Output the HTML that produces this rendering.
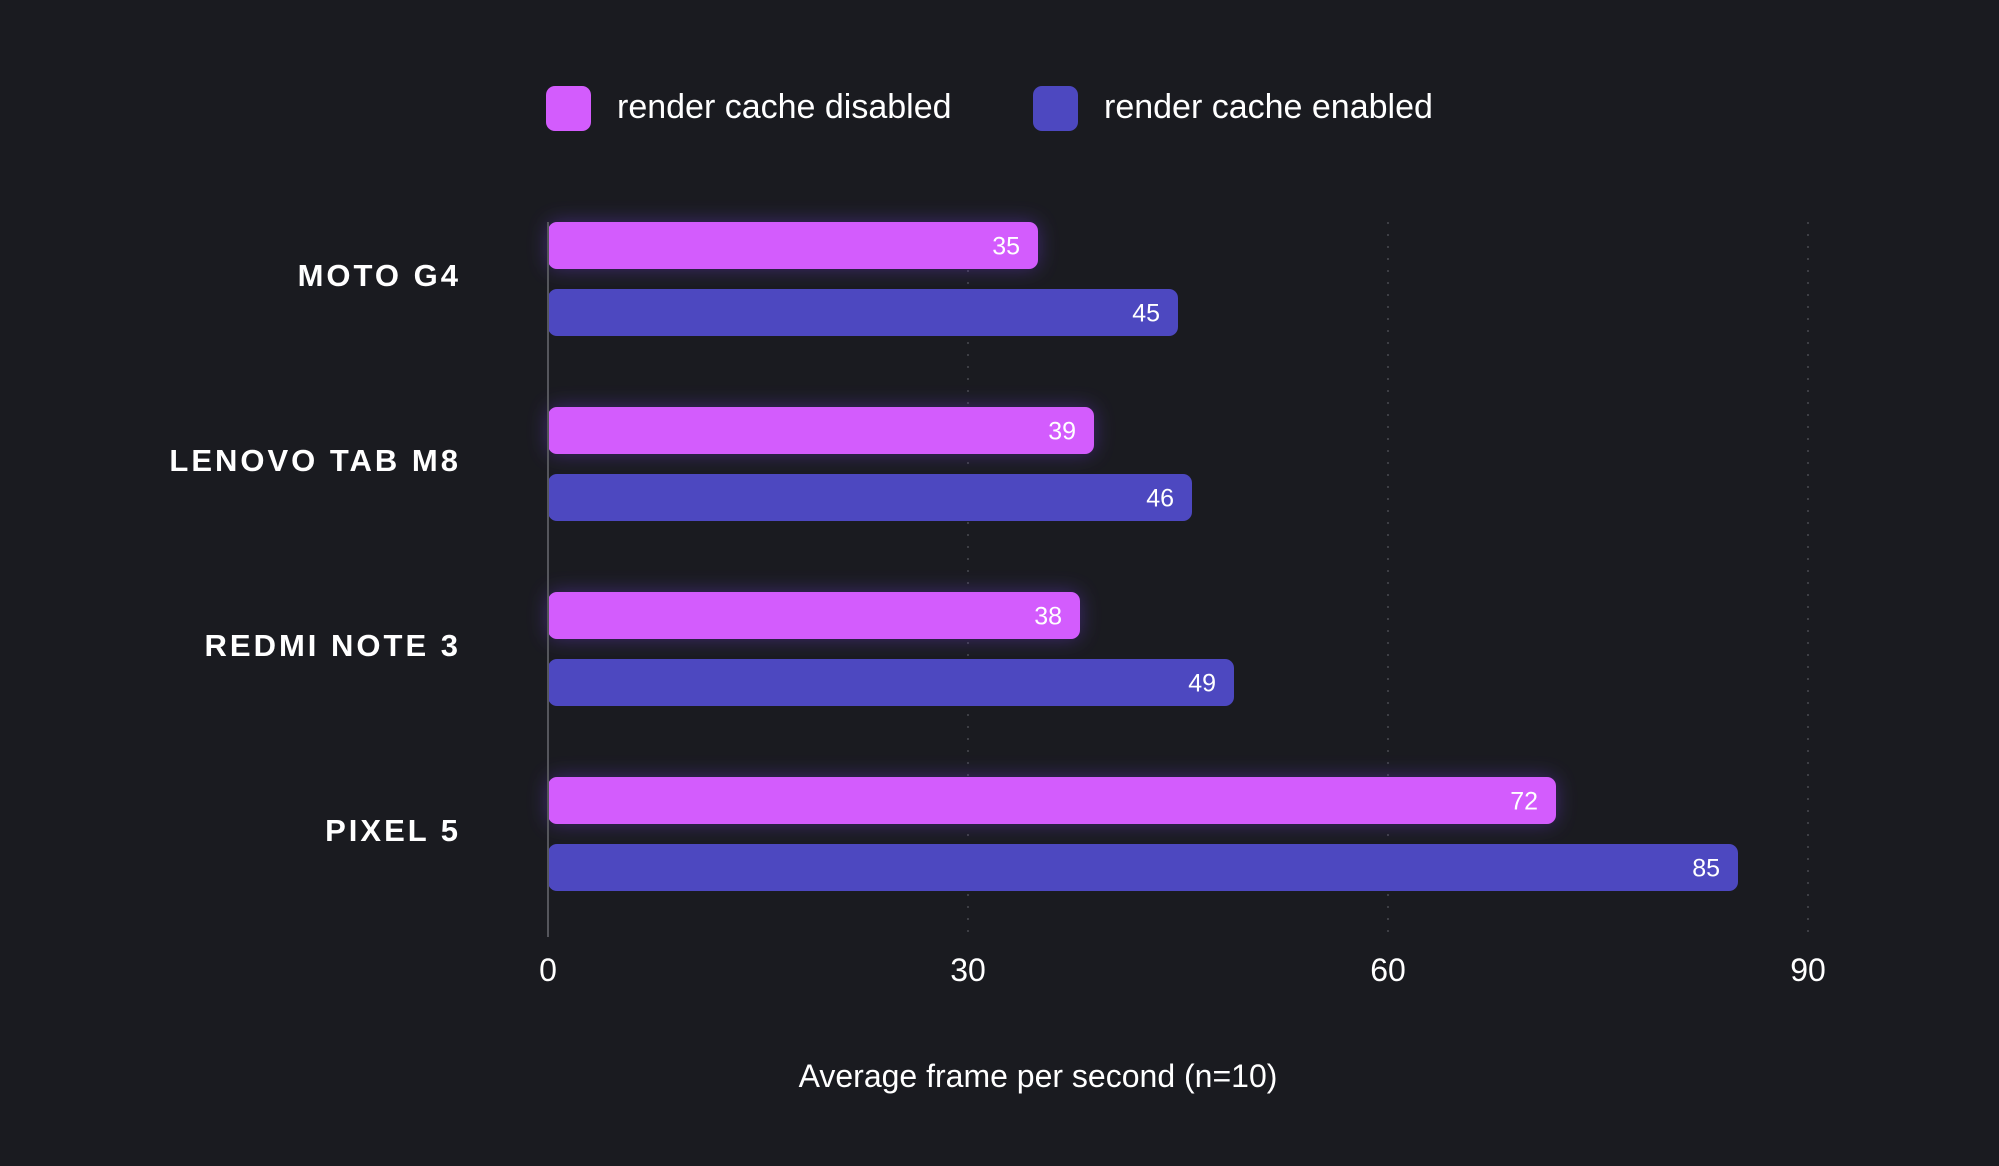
<!DOCTYPE html>
<html><head><meta charset="utf-8"><style>
html,body{margin:0;padding:0;background:#1a1b20;}
svg{display:block;font-family:"Liberation Sans",sans-serif;}
</style></head><body>
<svg id="chart" width="1999" height="1166" viewBox="0 0 1999 1166">
<defs><filter id="glow" x="-20%" y="-80%" width="140%" height="260%"><feGaussianBlur stdDeviation="10"/></filter></defs>
<rect width="1999" height="1166" fill="#1a1b20"/>
<g>
<g>
<rect x="546" y="86" width="45" height="45" rx="9" fill="#d35cfd"/>
<text x="617" y="118" font-size="34" fill="#ffffff">render cache disabled</text></g>
<g>
<rect x="1033" y="86" width="45" height="45" rx="9" fill="#4d48c0"/>
<text x="1104" y="118" font-size="34" fill="#ffffff">render cache enabled</text></g>
</g>
<g id="grid"></g>
<g id="bars"></g>
<line x1="548" y1="222" x2="548" y2="937" stroke="#55565c" stroke-width="2"/>
<g id="cats"></g>
<g id="ticks"></g>
<text x="1038" y="1087" font-size="32" fill="#ffffff" text-anchor="middle">Average frame per second (n=10)</text>
</svg>
<script>
const categories = ["MOTO G4","LENOVO TAB M8","REDMI NOTE 3","PIXEL 5"];
const disabledValues = [35,39,38,72];
const enabledValues = [45,46,49,85];
const tickValues = [0,30,60,90];
const NS="http://www.w3.org/2000/svg";
const x0=548, pxPerUnit=(1808-548)/90;
const xs=v=>x0+v*pxPerUnit;
const groupTop=i=>222+i*185;
const barH=47;
function mk(tag,attrs,parent){const e=document.createElementNS(NS,tag);for(const k in attrs)e.setAttribute(k,attrs[k]);parent.appendChild(e);return e;}
const grid=document.getElementById('grid'),bars=document.getElementById('bars'),cats=document.getElementById('cats'),ticks=document.getElementById('ticks');
tickValues.forEach(t=>{
  if(t>0){const l=mk('line',{x1:xs(t),y1:222,x2:xs(t),y2:937,stroke:'#3d3e44','stroke-width':2,'stroke-dasharray':'2 10'},grid);
  
  }
  const tx=mk('text',{x:xs(t),y:981,'font-size':32,fill:'#ffffff','text-anchor':'middle'},ticks);
  tx.textContent=t;
  
  
});
function bar(v,y,color,name,glow){
  const g=mk('g',{},bars);
  
  
  if(glow)mk('rect',{x:x0,y:y,width:xs(v)-x0,height:barH,rx:9,fill:'#6a3ad0',opacity:0.45,filter:'url(#glow)'},g);
  mk('rect',{x:x0,y:y,width:xs(v)-x0,height:barH,rx:9,fill:color},g);
  const t=mk('text',{x:xs(v)-18,y:y+barH/2+9,'font-size':25,fill:'#ffffff','text-anchor':'end'},g);
  t.textContent=v;
}
categories.forEach((c,i)=>{
  const y=groupTop(i);
  bar(disabledValues[i],y,'#d35cfd','bar-disabled-'+i,true);
  bar(enabledValues[i],y+67,'#4d48c0','bar-enabled-'+i,false);
  const t=mk('text',{x:461,y:y+64,'font-size':31,'font-weight':'bold',fill:'#ffffff','text-anchor':'end','letter-spacing':3},cats);
  t.textContent=c;
  
  
});
</script>
</body></html>
